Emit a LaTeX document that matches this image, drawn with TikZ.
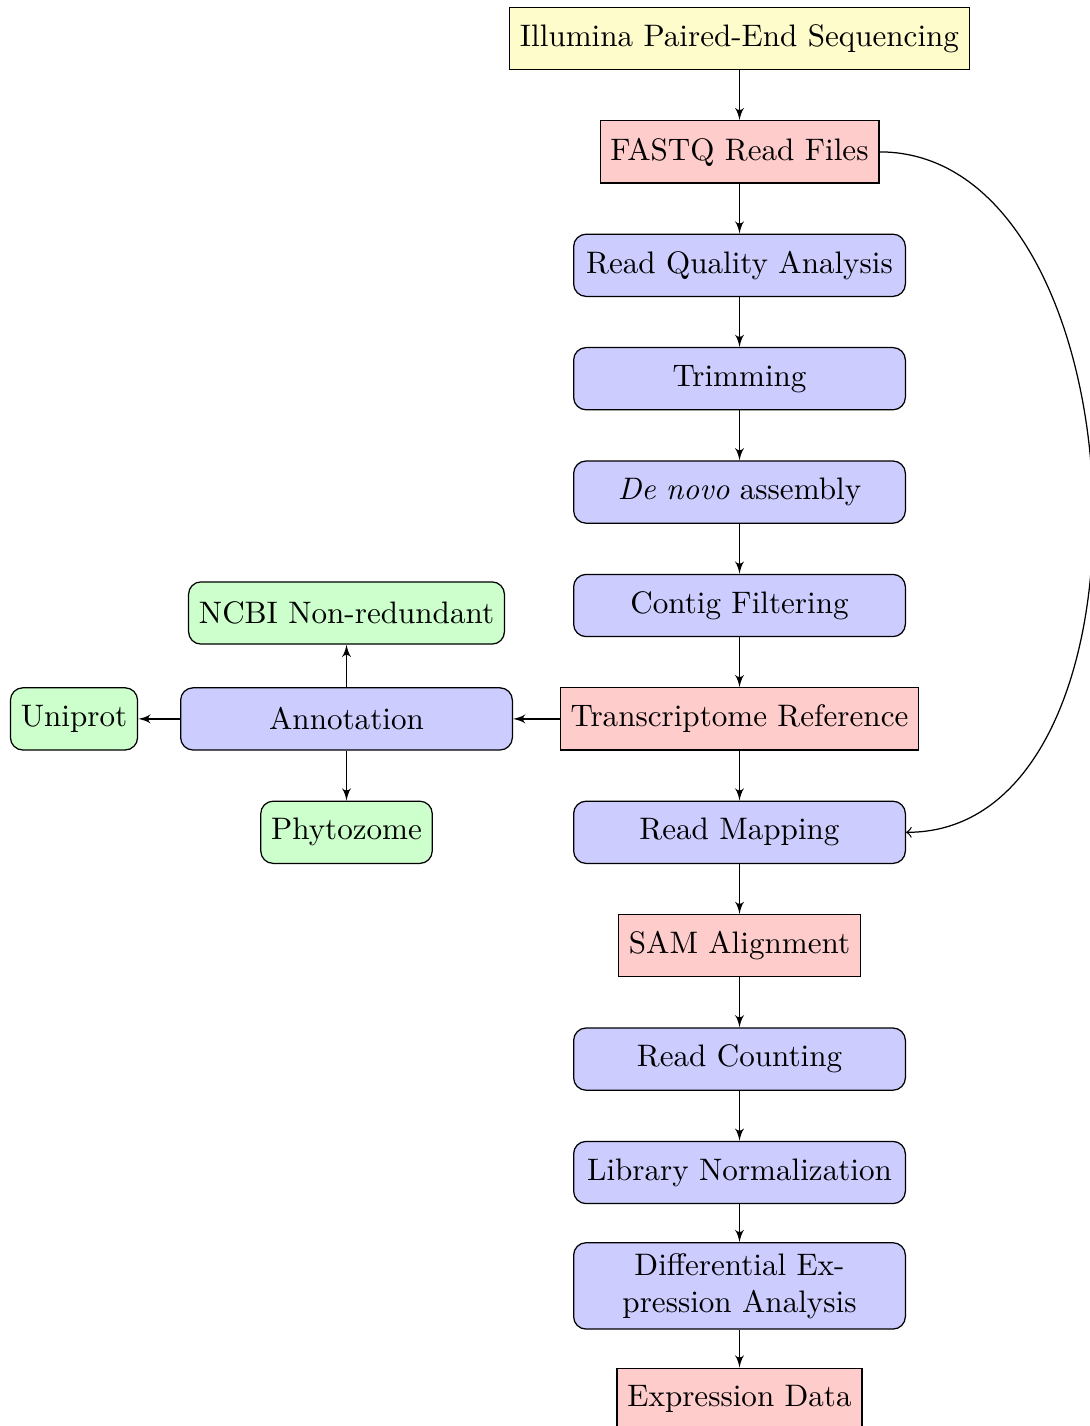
\documentclass[tikz,border=0pt]{standalone}
\usetikzlibrary{arrows}
\begin{document}
\begin{tikzpicture}[x=0.32154pt,y=-0.32154pt,
  base/.style={draw, minimum height=2em, inner sep=0.3333em},
  proc/.style={base, rectangle, rounded corners, fill=blue!20, text width=10em, align=center},
  datafile/.style={base, rectangle, fill=red!20},
  srcbox/.style={base, rectangle, fill=yellow!20},
  dbbox/.style={base, rectangle, rounded corners, fill=green!20},
  conn/.style={draw, -latex'}]
\useasboundingbox (0,0) rectangle (1089,1426);
\node[srcbox]   (illumina) at (739.5,38.5)  {Illumina Paired-End Sequencing};
\node[datafile] (fastq)    at (739.5,151.9) {FASTQ Read Files};
\node[proc]     (rqa)      at (739.5,265.3) {Read Quality Analysis};
\node[proc]     (trim)     at (739.5,378.7) {Trimming};
\node[proc]     (denovo)   at (739.5,492.1) {\emph{De novo} assembly};
\node[proc]     (contig)   at (739.5,605.5) {Contig Filtering};
\node[datafile] (tref)     at (739.5,718.9) {Transcriptome Reference};
\node[proc]     (rmap)     at (739.5,832.3) {Read Mapping};
\node[datafile] (sam)      at (739.5,945.7) {SAM Alignment};
\node[proc]     (rcount)   at (739.5,1059.1) {Read Counting};
\node[proc]     (libnorm)  at (739.5,1172.5) {Library Normalization};
\node[proc]     (dea)      at (739.5,1285.9) {Differential Expression Analysis};
\node[datafile] (expr)     at (739.5,1399.3) {Expression Data};
\node[proc]     (annot)    at (346.5,718.9) {Annotation};
\node[dbbox]    (ncbi)     at (346.5,613)   {NCBI Non-redundant};
\node[dbbox]    (uniprot)  at (74,718.9)    {Uniprot};
\node[dbbox]    (phyto)    at (346.5,832.3) {Phytozome};
\path[conn] (illumina) -- (fastq);
\path[conn] (fastq) -- (rqa);
\path[conn] (rqa) -- (trim);
\path[conn] (trim) -- (denovo);
\path[conn] (denovo) -- (contig);
\path[conn] (contig) -- (tref);
\path[conn] (tref) -- (rmap);
\path[conn] (rmap) -- (sam);
\path[conn] (sam) -- (rcount);
\path[conn] (rcount) -- (libnorm);
\path[conn] (libnorm) -- (dea);
\path[conn] (dea) -- (expr);
\path[conn] (tref) -- (annot);
\path[conn] (annot) -- (uniprot);
\path[conn] (annot) -- (ncbi);
\path[conn] (annot) -- (phyto);
\draw[->] (fastq.east) to[out=0,in=0] (rmap.east);
\end{tikzpicture}
\end{document}
